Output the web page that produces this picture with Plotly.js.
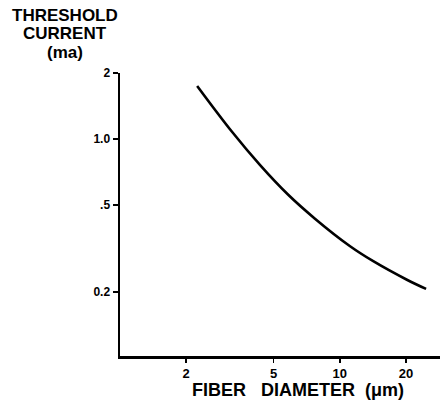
<!DOCTYPE html>
<html>
<head>
<meta charset="utf-8">
<script src="https://cdn.plot.ly/plotly-3.0.1.min.js"></script>
<style>html,body{margin:0;padding:0;background:#fff;}#chart{width:440px;height:404px;}</style>
</head>
<body>
<div id="chart"></div>
<script>
const fiberDiameter = [2.244, 3.24, 4.34, 5.81, 7.71, 11.1, 14.2, 20.2, 24.7];
const thresholdCurrent = [1.746, 1.076, 0.760, 0.558, 0.433, 0.325, 0.277, 0.228, 0.207];
const xTickVals = [2, 5, 10, 20];
const xTickText = ['2', '5', '10', '20'];
const yTickVals = [0.2, 0.5, 1, 2];
const yTickText = ['0.2', '.5', '1.0', '2'];
const yTitleLines = ['THRESHOLD', 'CURRENT', '(ma)'];
const xTitle = 'FIBER\u00A0\u00A0 DIAMETER\u00A0 (μm)';

const fam = 'Liberation Sans, Arial, sans-serif';

const trace = {
  x: fiberDiameter,
  y: thresholdCurrent,
  type: 'scatter',
  mode: 'lines',
  line: {color: '#000', width: 2.6, shape: 'spline', smoothing: 1},
  hoverinfo: 'none'
};

const yTitleShifts = [58, 40, 21];
const annotations = yTitleLines.map((t, i) => ({
  text: '<b>' + t + '</b>',
  xref: 'paper', yref: 'paper', x: -0.172, y: 1.0,
  xanchor: 'center', yanchor: 'middle', yshift: yTitleShifts[i],
  showarrow: false,
  font: {family: fam, size: 17, color: '#000'}
}));
annotations.push({
  text: '<b>' + xTitle + '</b>',
  xref: 'paper', yref: 'paper', x: 0.556, y: 0,
  xanchor: 'center', yanchor: 'middle', yshift: -34,
  showarrow: false,
  font: {family: fam, size: 18, color: '#000'}
});

const layout = {
  width: 440, height: 404,
  margin: {l: 120, r: 0, t: 73, b: 48, pad: 0},
  paper_bgcolor: '#fff', plot_bgcolor: '#fff',
  showlegend: false,
  font: {family: fam, color: '#000'},
  xaxis: {
    type: 'log', range: [0, 1.456],
    tickvals: xTickVals, ticktext: xTickText,
    ticks: 'outside', ticklen: 4, tickwidth: 1.5, tickcolor: '#000',
    showline: true, linewidth: 2.5, linecolor: '#000',
    showgrid: false, zeroline: false,
    tickfont: {family: fam, size: 13, color: '#000', weight: 'bold'}
  },
  yaxis: {
    type: 'log', range: [-0.99, 0.301],
    tickvals: yTickVals, ticktext: yTickText,
    ticks: 'outside', ticklen: 5, tickwidth: 1.5, tickcolor: '#000',
    showline: true, linewidth: 2.5, linecolor: '#000',
    showgrid: false, zeroline: false,
    tickfont: {family: fam, size: 12, color: '#000', weight: 'bold'}
  },
  annotations: annotations
};

Plotly.newPlot('chart', [trace], layout, {staticPlot: true, displayModeBar: false});
</script>
</body>
</html>
